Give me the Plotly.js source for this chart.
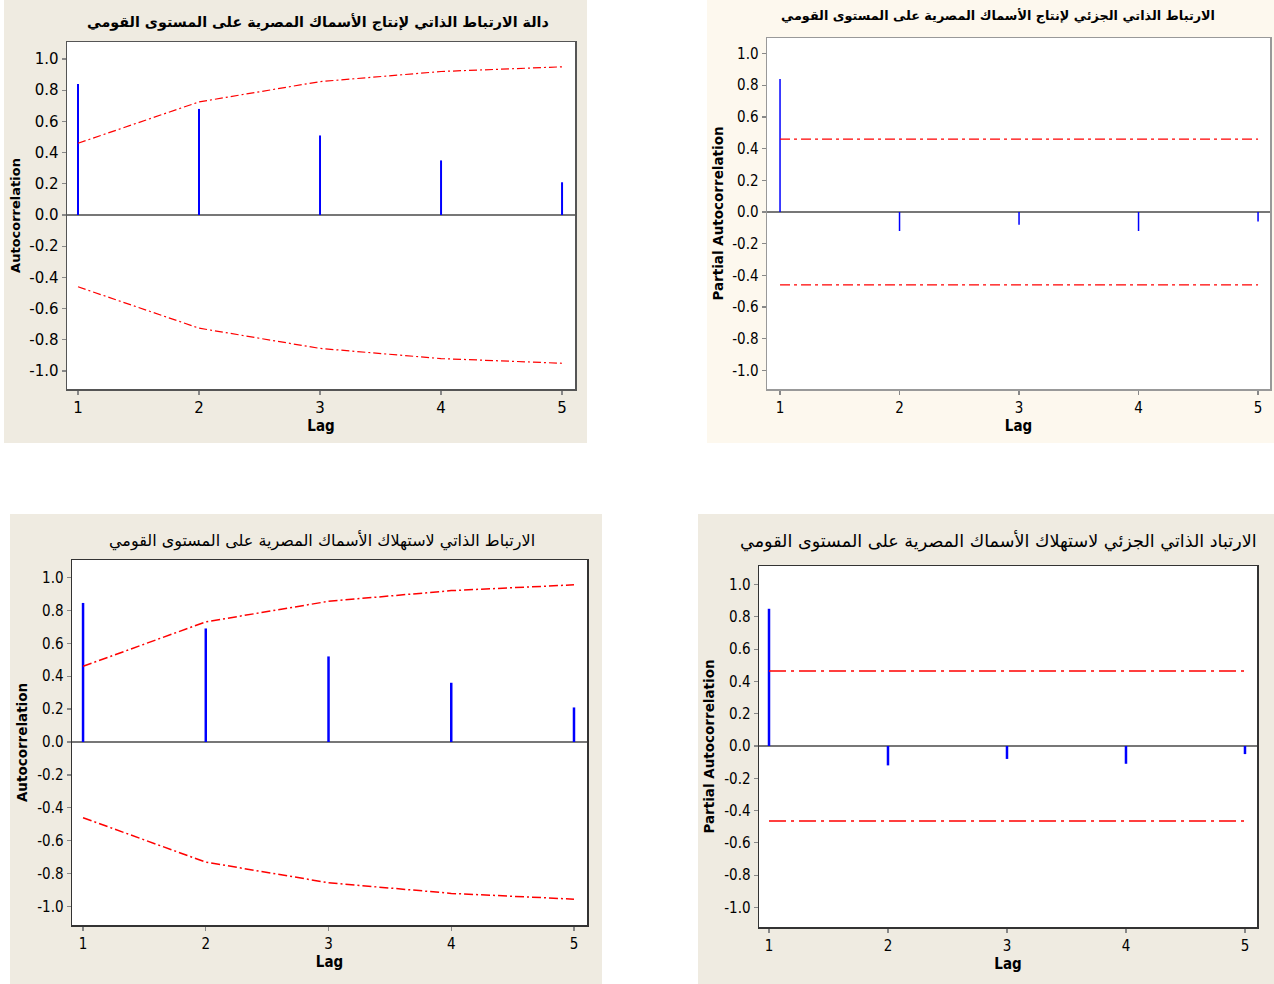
<!DOCTYPE html>
<html>
<head>
<meta charset="utf-8">
<script src="https://cdn.plot.ly/plotly-3.0.1.min.js"></script>
<style>html,body{margin:0;padding:0;background:#fff;}#chart{width:1274px;height:984px;}</style>
</head>
<body>
<div id="chart"></div>
<script>
// ---------------- DATA ----------------
const lags = [1, 2, 3, 4, 5];

const acfProduction = [0.84, 0.68, 0.51, 0.35, 0.21];
const acfProductionUpper = [0.46, 0.725, 0.855, 0.92, 0.95];
const acfProductionLower = [-0.46, -0.725, -0.855, -0.92, -0.95];

const pacfProduction = [0.84, -0.12, -0.08, -0.12, -0.06];
const pacfProductionLimit = [0.46, 0.46, 0.46, 0.46, 0.46];

const acfConsumption = [0.845, 0.69, 0.52, 0.36, 0.21];
const acfConsumptionUpper = [0.46, 0.73, 0.855, 0.92, 0.955];
const acfConsumptionLower = [-0.46, -0.73, -0.855, -0.92, -0.955];

const pacfConsumption = [0.85, -0.12, -0.08, -0.11, -0.05];
const pacfConsumptionLimit = [0.465, 0.465, 0.465, 0.465, 0.465];

const titles = [
  "دالة الارتباط الذاتي لإنتاج الأسماك المصرية على المستوى القومي",
  "الارتباط الذاتي الجزئي لإنتاج الأسماك المصرية على المستوى القومي",
  "الارتباط الذاتي لاستهلاك الأسماك المصرية على المستوى القومي",
  "الارتباد الذاتي الجزئي لاستهلاك الأسماك المصرية على المستوى القومي"
];
const yTitles = ["Autocorrelation", "Partial Autocorrelation", "Autocorrelation", "Partial Autocorrelation"];
const xTitle = "Lag";
const yTickVals = [-1.0, -0.8, -0.6, -0.4, -0.2, 0.0, 0.2, 0.4, 0.6, 0.8, 1.0];
const yTickText = ["-1.0", "-0.8", "-0.6", "-0.4", "-0.2", "0.0", "0.2", "0.4", "0.6", "0.8", "1.0"];
const xTickText = ["1", "2", "3", "4", "5"];

// ---------------- LAYOUT GEOMETRY ----------------
const W = 1274, H = 984;
const px = x => x / W;
const py = y => 1 - y / H;

const condensed = 'DejaVu Sans Condensed, Liberation Sans Narrow, DejaVu Sans, sans-serif';
const panels = [
  {bg:[4,0,587,443], bgc:'#efebe1', plot:[67,42,575,389], xr:[0.909,5.107], yr:[-1.115,1.109],
   border:'#555555', title:{x:318,y:22,size:14.3,bold:true}, tickSize:15, tickFont:'DejaVu Sans, Verdana, sans-serif',
   yTitleSize:13, yStand:5, barW:2, limW:1.2, dash:'8px,3px,2px,3px'},
  {bg:[707,0,1274,443], bgc:'#fdf8ee', plot:[767,38,1270,389], xr:[0.891,5.100], yr:[-1.117,1.098],
   border:'#999999', title:{x:998,y:16,size:12.8,bold:true}, tickSize:15, tickFont:condensed,
   yTitleSize:13.5, yStand:5, barW:1.5, limW:1.2, dash:'10px,4px,3px,4px'},
  {bg:[10,514,602,984], bgc:'#efebe1', plot:[72,560,587,925], xr:[0.910,5.106], yr:[-1.112,1.106],
   border:'#333333', title:{x:322,y:540,size:16,bold:false}, tickSize:15, tickFont:condensed,
   yTitleSize:13.5, yStand:6, barW:2.5, limW:1.5, dash:'9px,3px,2px,3px'},
  {bg:[698,514,1274,984], bgc:'#efebe1', plot:[759,566,1257,927], xr:[0.916,5.101], yr:[-1.121,1.115],
   border:'#333333', title:{x:998,y:541,size:17.6,bold:false}, tickSize:15, tickFont:condensed,
   yTitleSize:13.5, yStand:6, barW:2.5, limW:1.5, dash:'17px,5px,3px,5px'}
];

const series = [
  {vals: acfProduction, up: acfProductionUpper, lo: acfProductionLower},
  {vals: pacfProduction, up: pacfProductionLimit, lo: pacfProductionLimit.map(v => -v)},
  {vals: acfConsumption, up: acfConsumptionUpper, lo: acfConsumptionLower},
  {vals: pacfConsumption, up: pacfConsumptionLimit, lo: pacfConsumptionLimit.map(v => -v)}
];

const traces = [];
const layout = {
  width: W, height: H,
  margin: {l:0, r:0, t:0, b:0},
  paper_bgcolor: '#ffffff',
  plot_bgcolor: 'rgba(0,0,0,0)',
  showlegend: false,
  shapes: [],
  annotations: []
};

panels.forEach((p, i) => {
  const n = i + 1;
  const xa = 'x' + (n === 1 ? '' : n), ya = 'y' + (n === 1 ? '' : n);
  const s = series[i];

  // stems
  const sx = [], sy = [];
  lags.forEach((l, k) => { sx.push(l, l, null); sy.push(0, s.vals[k], null); });
  traces.push({type:'scatter', mode:'lines', x:sx, y:sy, xaxis:xa, yaxis:ya,
    line:{color:'#0000ff', width:p.barW}, hoverinfo:'skip'});
  // limits
  traces.push({type:'scatter', mode:'lines', x:lags, y:s.up, xaxis:xa, yaxis:ya,
    line:{color:'#ff0000', width:p.limW, dash:p.dash}, hoverinfo:'skip'});
  traces.push({type:'scatter', mode:'lines', x:lags, y:s.lo, xaxis:xa, yaxis:ya,
    line:{color:'#ff0000', width:p.limW, dash:p.dash}, hoverinfo:'skip'});

  const axBase = {showgrid:false, showline:true, mirror:true, linecolor:p.border, linewidth:1.5,
    ticks:'outside', tickcolor:'#888888', tickwidth:1.2, automargin:false,
    tickfont:{family:p.tickFont, size:p.tickSize, color:'#000000'}};

  layout['xaxis' + (n === 1 ? '' : n)] = Object.assign({}, axBase, {
    domain:[px(p.plot[0]), px(p.plot[2])], anchor:ya, range:p.xr,
    tickvals:lags, ticktext:xTickText, ticklen:4, zeroline:false,
    title:{text:xTitle, font:{family:'DejaVu Sans Condensed, DejaVu Sans, sans-serif', size:15, weight:'bold', color:'#000'}, standoff:3}
  });
  layout['yaxis' + (n === 1 ? '' : n)] = Object.assign({}, axBase, {
    domain:[py(p.plot[3]), py(p.plot[1])], anchor:xa, range:p.yr,
    tickvals:yTickVals, ticktext:yTickText, ticklen:4,
    zeroline:true, zerolinecolor:'#777777', zerolinewidth:1.5,
    title:{text:yTitles[i], font:{family:'DejaVu Sans, Verdana, sans-serif', size:p.yTitleSize, weight:'bold', color:'#000'}, standoff:p.yStand}
  });

  // panel background and white plot area
  layout.shapes.push({type:'rect', xref:'paper', yref:'paper', layer:'below',
    x0:px(p.bg[0]), x1:px(p.bg[2]), y0:py(p.bg[3]), y1:py(p.bg[1]),
    fillcolor:p.bgc, line:{width:0}});
  layout.shapes.push({type:'rect', xref:'paper', yref:'paper', layer:'below',
    x0:px(p.plot[0]), x1:px(p.plot[2]), y0:py(p.plot[3]), y1:py(p.plot[1]),
    fillcolor:'#ffffff', line:{width:0}});

  layout.annotations.push({text:titles[i], xref:'paper', yref:'paper',
    x:px(p.title.x), y:py(p.title.y), xanchor:'center', yanchor:'middle', showarrow:false,
    font:{family:'DejaVu Sans, sans-serif', size:p.title.size, weight:p.title.bold ? 'bold' : 'normal', color:'#000'}});
});

Plotly.newPlot('chart', traces, layout, {staticPlot:true, displayModeBar:false});
</script>
</body>
</html>
